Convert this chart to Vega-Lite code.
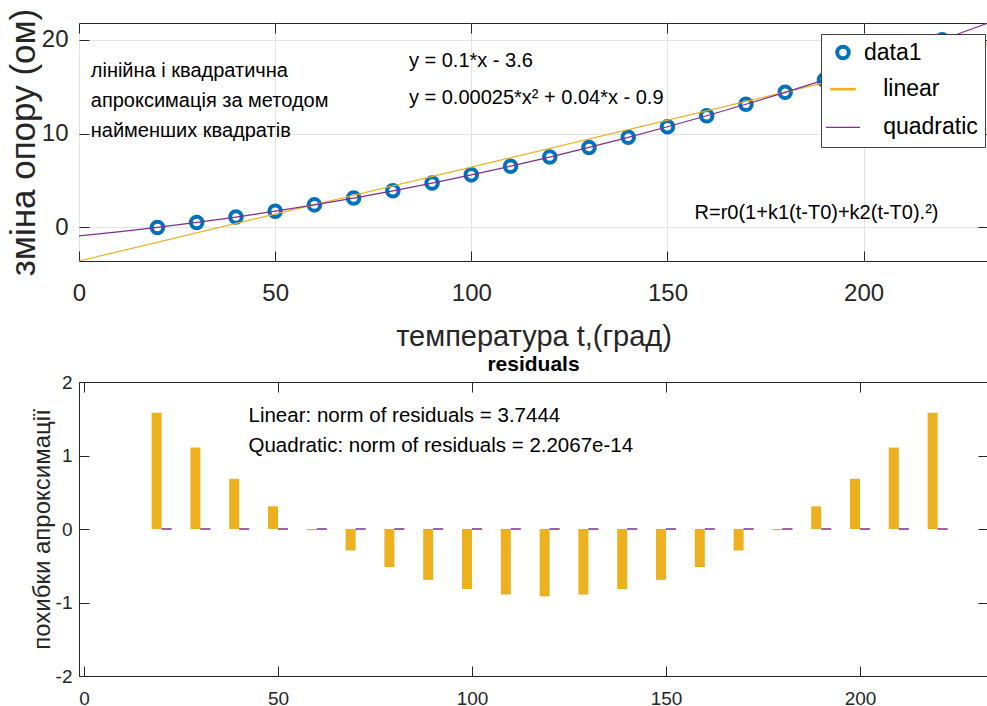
{
  "$schema": "https://vega.github.io/schema/vega-lite/v6.json",
  "background": "white",
  "padding": {"left": 5, "top": 7, "right": 0, "bottom": 0},
  "spacing": 121,
  "bounds": "flush",
  "config": {
    "view": {"stroke": "#262626", "strokeWidth": 1},
    "font": "Liberation Sans",
    "axis": {
      "domain": false,
      "tickColor": "#262626",
      "labelColor": "#262626",
      "titleColor": "#262626",
      "labelFont": "Liberation Sans",
      "titleFont": "Liberation Sans",
      "titleFontWeight": "normal",
      "tickSize": -10,
      "tickWidth": 1,
      "labelOverlap": false,
      "labelFlush": false,
      "gridColor": "#E3E3E3",
      "gridWidth": 1
    }
  },
  "datasets": {
    "meas": [
      {"t": 20, "R": 0, "series": "data1"},
      {"t": 30, "R": 0.525, "series": "data1"},
      {"t": 40, "R": 1.1, "series": "data1"},
      {"t": 50, "R": 1.725, "series": "data1"},
      {"t": 60, "R": 2.4, "series": "data1"},
      {"t": 70, "R": 3.125, "series": "data1"},
      {"t": 80, "R": 3.9, "series": "data1"},
      {"t": 90, "R": 4.725, "series": "data1"},
      {"t": 100, "R": 5.6, "series": "data1"},
      {"t": 110, "R": 6.525, "series": "data1"},
      {"t": 120, "R": 7.5, "series": "data1"},
      {"t": 130, "R": 8.525, "series": "data1"},
      {"t": 140, "R": 9.6, "series": "data1"},
      {"t": 150, "R": 10.725, "series": "data1"},
      {"t": 160, "R": 11.9, "series": "data1"},
      {"t": 170, "R": 13.125, "series": "data1"},
      {"t": 180, "R": 14.4, "series": "data1"},
      {"t": 190, "R": 15.725, "series": "data1"},
      {"t": 200, "R": 17.1, "series": "data1"},
      {"t": 210, "R": 18.525, "series": "data1"},
      {"t": 220, "R": 20, "series": "data1"}
    ],
    "lin": [
      {"t": 0, "R": -3.5833},
      {"t": 231.7, "R": 19.5867}
    ],
    "quad": [
      {"t": 0, "R": -0.9},
      {"t": 10, "R": -0.475},
      {"t": 20, "R": 0},
      {"t": 30, "R": 0.525},
      {"t": 40, "R": 1.1},
      {"t": 50, "R": 1.725},
      {"t": 60, "R": 2.4},
      {"t": 70, "R": 3.125},
      {"t": 80, "R": 3.9},
      {"t": 90, "R": 4.725},
      {"t": 100, "R": 5.6},
      {"t": 110, "R": 6.525},
      {"t": 120, "R": 7.5},
      {"t": 130, "R": 8.525},
      {"t": 140, "R": 9.6},
      {"t": 150, "R": 10.725},
      {"t": 160, "R": 11.9},
      {"t": 170, "R": 13.125},
      {"t": 180, "R": 14.4},
      {"t": 190, "R": 15.725},
      {"t": 200, "R": 17.1},
      {"t": 210, "R": 18.525},
      {"t": 220, "R": 20},
      {"t": 230, "R": 21.525},
      {"t": 231.7, "R": 21.789}
    ],
    "res": [
      {"t": 20, "lin": 1.5833, "quad": 0},
      {"t": 30, "lin": 1.1083, "quad": 0},
      {"t": 40, "lin": 0.6833, "quad": 0},
      {"t": 50, "lin": 0.3083, "quad": 0},
      {"t": 60, "lin": -0.0167, "quad": 0},
      {"t": 70, "lin": -0.2917, "quad": 0},
      {"t": 80, "lin": -0.5167, "quad": 0},
      {"t": 90, "lin": -0.6917, "quad": 0},
      {"t": 100, "lin": -0.8167, "quad": 0},
      {"t": 110, "lin": -0.8917, "quad": 0},
      {"t": 120, "lin": -0.9167, "quad": 0},
      {"t": 130, "lin": -0.8917, "quad": 0},
      {"t": 140, "lin": -0.8167, "quad": 0},
      {"t": 150, "lin": -0.6917, "quad": 0},
      {"t": 160, "lin": -0.5167, "quad": 0},
      {"t": 170, "lin": -0.2917, "quad": 0},
      {"t": 180, "lin": -0.0167, "quad": 0},
      {"t": 190, "lin": 0.3083, "quad": 0},
      {"t": 200, "lin": 0.6833, "quad": 0},
      {"t": 210, "lin": 1.1083, "quad": 0},
      {"t": 220, "lin": 1.5833, "quad": 0}
    ],
    "annTop": [
      {"x": 3, "y": 16.63, "text": "лінійна і квадратична"},
      {"x": 3, "y": 13.45, "text": "апроксимація  за методом"},
      {"x": 3, "y": 10.26, "text": "найменших квадратів"},
      {"x": 84.1, "y": 17.7, "text": "y = 0.1*x - 3.6"},
      {"x": 84.1, "y": 13.77, "text": "y = 0.00025*x² + 0.04*x - 0.9"},
      {"x": 156.9, "y": 1.56, "text": "R=r0(1+k1(t-T0)+k2(t-T0).²)"}
    ],
    "annBottom": [
      {"x": 42.4, "y": 1.534, "text": "Linear: norm of residuals = 3.7444"},
      {"x": 42.4, "y": 1.125, "text": "Quadratic: norm of residuals = 2.2067e-14"}
    ]
  },
  "vconcat": [
    {
      "width": 909,
      "height": 238,
      "resolve": {"axis": {"x": "independent", "y": "independent"}},
      "layer": [
        {
          "data": {"name": "meas"},
          "mark": {"type": "point", "filled": false, "opacity": 1},
          "encoding": {
            "x": {"field": "t", "type": "quantitative",
              "scale": {"domain": [0, 231.7], "nice": false, "zero": false},
              "axis": {"values": [0, 50, 100, 150, 200], "labelFontSize": 24, "labelPadding": 30,
                "title": "температура t,(град)", "titleFontSize": 29, "titlePadding": 17, "grid": true}},
            "y": {"field": "R", "type": "quantitative",
              "scale": {"domain": [-3.583, 21.79], "nice": false, "zero": false},
              "axis": {"values": [0, 10, 20], "labelFontSize": 24, "labelPadding": 21,
                "title": "зміна опору (ом)", "titleFontSize": 35, "titlePadding": 0, "grid": true}},
            "color": {"field": "series", "type": "nominal",
              "scale": {"domain": ["data1", "linear", "quadratic"], "range": ["#0072BD", "#EDB120", "#7E2F8E"]},
              "legend": {
                "orient": "none", "legendX": 742, "legendY": 11, "title": null,
                "fillColor": "white", "strokeColor": "#404040", "padding": 7,
                "labelFont": "Liberation Sans", "labelFontSize": 23, "labelColor": "#000",
                "symbolOffset": -3, "labelOffset": 3,
                "rowPadding": 8.2,
                "labelExpr": "datum.label == 'data1' ? datum.label : '\u200b\u00a0\u00a0\u00a0' + datum.label"
              }},
            "shape": {"field": "series", "type": "nominal",
              "scale": {"domain": ["data1", "linear", "quadratic"], "range": ["circle", "stroke", "stroke"]}},
            "size": {"field": "series", "type": "nominal",
              "scale": {"domain": ["data1", "linear", "quadratic"], "range": [133, 1156, 1156]}},
            "strokeWidth": {"field": "series", "type": "nominal",
              "scale": {"domain": ["data1", "linear", "quadratic"], "range": [4, 1.2, 1.2]}}
          }
        },
        {
          "data": {"name": "lin"},
          "mark": {"type": "line", "color": "#EDB120", "strokeWidth": 1.2, "clip": true},
          "encoding": {
            "x": {"field": "t", "type": "quantitative", "axis": null},
            "y": {"field": "R", "type": "quantitative", "axis": null}
          }
        },
        {
          "data": {"name": "quad"},
          "mark": {"type": "line", "color": "#7E2F8E", "strokeWidth": 1.2, "clip": true},
          "encoding": {
            "x": {"field": "t", "type": "quantitative", "axis": null},
            "y": {"field": "R", "type": "quantitative", "axis": null}
          }
        },
        {
          "data": {"name": "annTop"},
          "mark": {"type": "text", "align": "left", "baseline": "middle", "fontSize": 20, "font": "Liberation Sans", "color": "#000"},
          "encoding": {
            "x": {"field": "x", "type": "quantitative",
              "axis": {"orient": "top", "values": [0, 50, 100, 150, 200], "labels": false, "grid": false, "title": null}},
            "y": {"field": "y", "type": "quantitative",
              "axis": {"orient": "right", "values": [0, 10, 20], "labels": false, "grid": false, "title": null}},
            "text": {"field": "text"}
          }
        }
      ]
    },
    {
      "width": 909,
      "height": 294,
      "title": {"text": "residuals", "fontSize": 21, "fontWeight": "bold", "font": "Liberation Sans", "color": "#000", "offset": -2, "anchor": "middle"},
      "resolve": {"axis": {"x": "independent", "y": "independent"}},
      "layer": [
        {
          "data": {"name": "res"},
          "mark": {"type": "bar", "orient": "vertical", "width": 10, "xOffset": -5, "color": "#EDB120"},
          "encoding": {
            "x": {"field": "t", "type": "quantitative",
              "scale": {"domain": [0, 231.7], "nice": false, "zero": false},
              "axis": {"values": [0, 50, 100, 150, 200], "labelFontSize": 19, "labelPadding": 23.6, "title": null, "grid": false}},
            "y": {"field": "lin", "type": "quantitative",
              "scale": {"domain": [-2, 2], "nice": false},
              "axis": {"values": [-2, -1, 0, 1, 2], "labelFontSize": 19, "labelPadding": 17,
                "labelExpr": "'' + datum.value",
                "title": "похибки апроксимації", "titleFontSize": 24, "titlePadding": 1, "grid": false}}
          }
        },
        {
          "data": {"name": "res"},
          "mark": {"type": "bar", "orient": "vertical", "width": 10, "xOffset": 5, "color": "#7E2F8E", "stroke": "#7E2F8E", "strokeWidth": 1},
          "encoding": {
            "x": {"field": "t", "type": "quantitative", "axis": null},
            "y": {"field": "quad", "type": "quantitative", "axis": null}
          }
        },
        {
          "mark": {"type": "rule", "color": "#262626", "strokeWidth": 1},
          "encoding": {
            "y": {"datum": 0, "type": "quantitative", "axis": null}
          }
        },
        {
          "data": {"name": "annBottom"},
          "mark": {"type": "text", "align": "left", "baseline": "middle", "fontSize": 20.5, "font": "Liberation Sans", "color": "#000"},
          "encoding": {
            "x": {"field": "x", "type": "quantitative",
              "axis": {"orient": "top", "values": [0, 50, 100, 150, 200], "labels": false, "grid": false, "title": null}},
            "y": {"field": "y", "type": "quantitative",
              "axis": {"orient": "right", "values": [-2, -1, 0, 1, 2], "labels": false, "grid": false, "title": null}},
            "text": {"field": "text"}
          }
        }
      ]
    }
  ]
}
